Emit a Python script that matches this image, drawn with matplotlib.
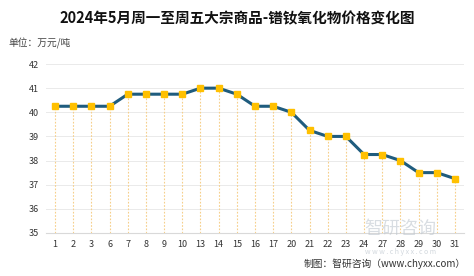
import matplotlib
matplotlib.use("Agg")
import matplotlib.pyplot as plt

plt.rcParams['font.family'] = ['Noto Sans CJK SC', 'DejaVu Sans']

dates = ["1", "2", "3", "6", "7", "8", "9", "10", "13", "14", "15", "16", "17",
         "20", "21", "22", "23", "24", "27", "28", "29", "30", "31"]
prices = [40.25, 40.25, 40.25, 40.25, 40.75, 40.75, 40.75, 40.75, 41.0, 41.0, 40.75,
          40.25, 40.25, 40.0, 39.25, 39.0, 39.0, 38.25, 38.25, 38.0, 37.5, 37.5, 37.25]
yticks = [35, 36, 37, 38, 39, 40, 41, 42]

title = "2024年5月周一至周五大宗商品-镨钕氧化物价格变化图"
unit = "单位：万元/吨"
source = "制图：智研咨询（www.chyxx.com）"

fig = plt.figure(figsize=(4.74, 2.76), dpi=100)
ax = fig.add_axes([0.097, 0.156, 0.882, 0.612])

x = list(range(len(dates)))
ax.vlines(x, 35, prices, colors="#F6CF8A", linestyles=(0, (1.5, 1.5)), linewidth=0.8, zorder=1)
ax.plot(x, prices, color="#1F5C7E", linewidth=2.2, zorder=2)
ax.plot(x, prices, linestyle="none", marker="s", markersize=4.5,
        markerfacecolor="#FFC000", markeredgecolor="#FFC000", zorder=3)

ax.set_xlim(-0.5, len(dates) - 0.5)
ax.set_ylim(35, 42)
ax.set_yticks(yticks)
ax.set_xticks(x)
ax.set_xticklabels(dates)
ax.tick_params(axis="both", length=0, labelsize=6.5, colors="#333333")
ax.tick_params(axis="x", pad=5)
ax.tick_params(axis="y", pad=5)
ax.grid(axis="y", color="#EAEAEA", linewidth=0.7)
ax.set_axisbelow(True)
for s in ["top", "right", "left"]:
    ax.spines[s].set_visible(False)
ax.spines["bottom"].set_color("#D9D9D9")
ax.spines["bottom"].set_linewidth(0.8)

fig.text(0.5, 0.935, title, ha="center", va="center", fontsize=10.5, fontweight="bold", color="#111111")
fig.text(0.017, 0.843, unit, ha="left", va="center", fontsize=7, color="#444444")
fig.text(0.982, 0.045, source, ha="right", va="center", fontsize=7, color="#333333")

# watermark
fig.text(0.845, 0.17, "智研咨询", ha="center", va="center", fontsize=13, color="#BFC7CF", alpha=0.6)
fig.text(0.845, 0.087, "w w w . c h y x x . c o m", ha="center", va="center", fontsize=5, color="#BFC7CF", alpha=0.7)

fig.savefig("out.png", dpi=100)
